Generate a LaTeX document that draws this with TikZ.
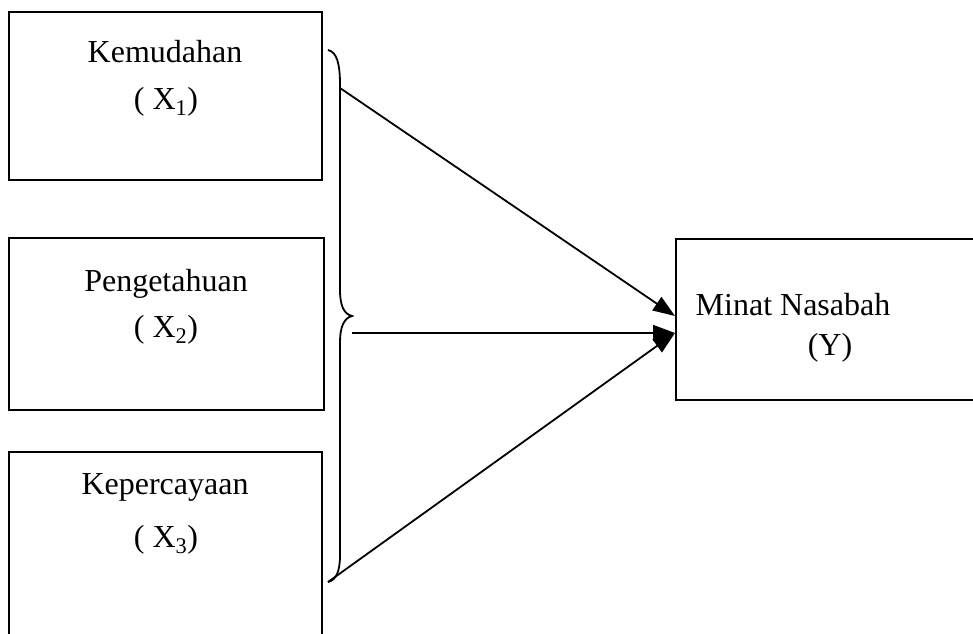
\documentclass[tikz,border=0pt]{standalone}
\usepackage{fontspec}
\setmainfont{Liberation Serif}
\usetikzlibrary{arrows.meta}
\begin{document}
\begin{tikzpicture}[x=1pt,y=-1pt,
  box/.style={draw,line width=2pt,rectangle,inner sep=0pt},
  lbl/.style={anchor=base,inner sep=0pt,font=\fontsize{32}{38}\selectfont},
  conn/.style={line width=1.8pt,-{Triangle[length=22pt,width=16pt]}},
  bracestyle/.style={line width=1.8pt}]
\useasboundingbox (0,0) rectangle (973,633);
\clip (0,0) rectangle (973,633);
\fill[white] (0,0) rectangle (973,633);
% boxes
\node[box,minimum width=313pt,minimum height=168pt] (x1) at (165.5,96) {};
\node[box,minimum width=315pt,minimum height=172pt] (x2) at (166.5,324) {};
\node[box,minimum width=313pt,minimum height=300pt] (x3) at (165.5,602) {};
\node[box,line width=2.6pt,minimum width=600pt,minimum height=161pt] (yb) at (976,319.5) {};
% labels
\node[lbl] (l1) at (165,62) {Kemudahan};
\node[lbl] (s1) at (166,109) {( X\textsubscript{1})};
\node[lbl] (l2) at (166,291) {Pengetahuan};
\node[lbl] (s2) at (166,337) {( X\textsubscript{2})};
\node[lbl] (l3) at (165,494) {Kepercayaan};
\node[lbl] (s3) at (166,547) {( X\textsubscript{3})};
\node[lbl] (ly) at (793,315) {Minat Nasabah};
\node[lbl] (sy) at (830,355) {(Y)};
% brace
\draw[bracestyle] (328,50) .. controls (337,52) and (340,64) .. (340,85)
  -- (340,290) .. controls (340,306) and (344,314) .. (352,316)
  .. controls (344,318) and (340,327) .. (340,342)
  -- (340,555) .. controls (340,572) and (336,580) .. (328,582);
% connector ends
\coordinate (b1) at (340,88);
\coordinate (b2) at (352,333);
\coordinate (b3) at (328,582);
\coordinate (t1) at (675,316);
\coordinate (t2) at (675,333);
\draw[conn] (b1) -- (t1);
\draw[conn] (b2) -- (t2);
\draw[conn] (b3) -- (t2);
\end{tikzpicture}
\end{document}
